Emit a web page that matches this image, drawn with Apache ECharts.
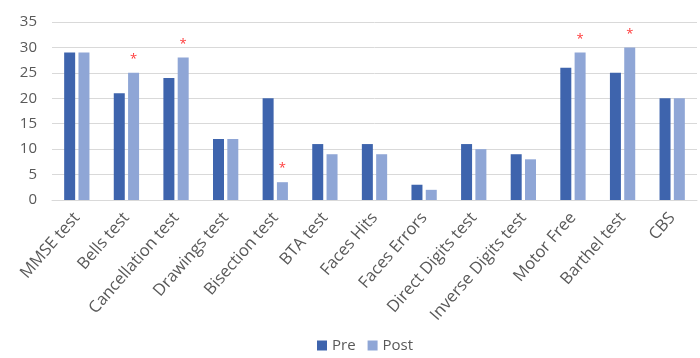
<!DOCTYPE html>
<html><head><meta charset="utf-8">
<script src="https://cdn.jsdelivr.net/npm/echarts@6/dist/echarts.min.js"></script>
<style>html,body{margin:0;padding:0;background:#fff}#c{width:700px;height:358px}</style>
</head><body><div id="c"></div>
<script>
const categories = ["MMSE test","Bells test","Cancellation test","Drawings test","Bisection test","BTA test","Faces Hits","Faces Errors","Direct Digits test","Inverse Digits test","Motor Free","Barthel test","CBS"];
const preValues = [29,21,24,12,20,11,11,3,11,9,26,25,20];
const postValues = [29,25,28,12,3.5,9,9,2,10,8,29,30,20];
const significant = [false,true,true,false,true,false,false,false,false,false,true,true,false];
const yTicks = {min:0,max:35,interval:5};

const chart = echarts.init(document.getElementById('c'));
chart.setOption({
  animation:false,
  textStyle:{fontFamily:'"Open Sans", "Noto Sans", sans-serif'},
  grid:{left:52,right:3,top:22,bottom:158,containLabel:false},
  legend:{bottom:0,left:312,itemWidth:10,itemHeight:10,itemGap:12,icon:'rect',
    textStyle:{color:'#595959',fontSize:15},data:['Pre','Post']},
  xAxis:{type:'category',data:categories,
    axisLine:{lineStyle:{color:'#d9d9d9'}},axisTick:{show:false},
    axisLabel:{rotate:49,color:'#595959',fontSize:16.5,interval:0,margin:15,hideOverlap:false}},
  yAxis:{type:'value',min:yTicks.min,max:yTicks.max,interval:yTicks.interval,
    axisLine:{show:false},axisTick:{show:false},
    axisLabel:{color:'#595959',fontSize:15,margin:15},
    splitLine:{lineStyle:{color:'#d9d9d9'}}},
  series:[
    {name:'Pre',type:'bar',data:preValues,barWidth:11,barGap:'30%',itemStyle:{color:'#3e64ad'}},
    {name:'Post',type:'bar',barWidth:11,itemStyle:{color:'#8fa6d6'},
      data:postValues.map((v,i)=>({value:v,label:{show:significant[i]}})),
      label:{position:'top',distance:7,formatter:'*',color:'#ff3b3b',fontSize:13}}
  ]
});
</script></body></html>
